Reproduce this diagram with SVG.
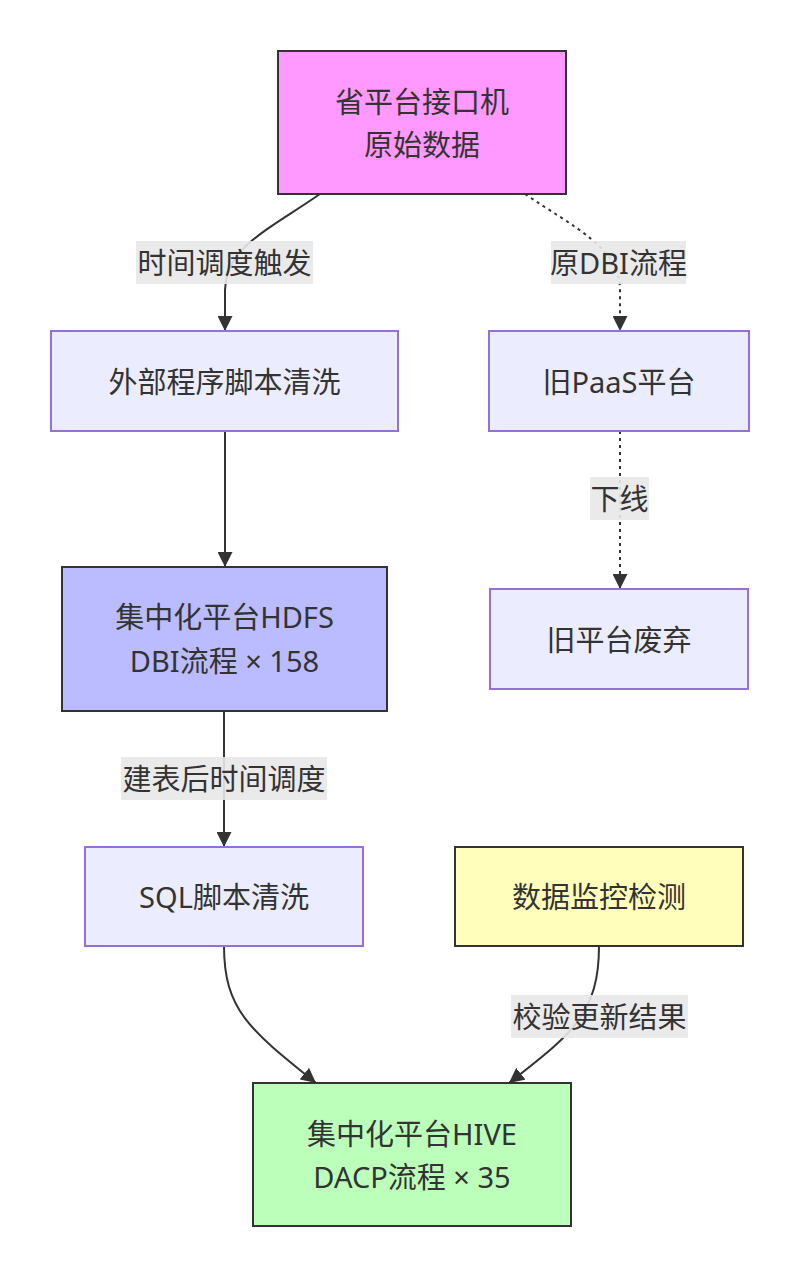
<svg xmlns="http://www.w3.org/2000/svg" width="800" height="1278" viewBox="0 0 800 1278">
<defs>
<marker id="arrow" viewBox="0 0 10 10" refX="10" refY="5" markerUnits="userSpaceOnUse" markerWidth="15" markerHeight="15" orient="auto">
<path d="M0,0 L10,5 L0,10 z" fill="#333"/>
</marker>
<style>
text{font-family:"Noto Sans","Noto Sans CJK SC",sans-serif;font-size:29px;fill:#333;text-anchor:middle;dominant-baseline:central}
.edge{fill:none;stroke:#333;stroke-width:2}
.dash{stroke-dasharray:3,4}
.lbl{fill:#e8e8e8;opacity:0.9}
.def{fill:#ECECFF;stroke:#9370DB;stroke-width:2}
.dark{stroke:#333;stroke-width:2}
</style>
</defs>
<rect width="800" height="1278" fill="#fff"/>
<g id="connectors">
<path class="edge" d="M320,194 C268,230 225,248 225,290 L225,331" marker-end="url(#arrow)"/>
<path class="edge dash" d="M525,194 C575,228 620,248 620,290 L620,331" marker-end="url(#arrow)"/>
<path class="edge" d="M225,431 L225,567" marker-end="url(#arrow)"/>
<path class="edge dash" d="M620,431 L620,589" marker-end="url(#arrow)"/>
<path class="edge" d="M224,711 L224,847" marker-end="url(#arrow)"/>
<path class="edge" d="M224,946 C224,1010 250,1030 316,1083" marker-end="url(#arrow)"/>
<path class="edge" d="M599,946 C599,1015 570,1035 509,1083" marker-end="url(#arrow)"/>
<g id="edge-labels">
<rect class="lbl" x="136" y="241" width="177" height="43"/>
<text x="224.5" y="262">时间调度触发</text>
<rect class="lbl" x="551" y="241" width="135" height="43"/>
<text x="618.5" y="262">原DBI流程</text>
<rect class="lbl" x="590" y="477" width="59" height="43"/>
<text x="619.5" y="498">下线</text>
<rect class="lbl" x="121" y="757" width="206" height="43"/>
<text x="224" y="778">建表后时间调度</text>
<rect class="lbl" x="511" y="995" width="177" height="43"/>
<text x="599.5" y="1016">校验更新结果</text>
</g>
</g>
<g id="n-source">
<rect x="278" y="51" width="288" height="143" fill="#ff99ff" class="dark"/>
<text x="422" y="101">省平台接口机</text>
<text x="422" y="144">原始数据</text>
</g>
<g id="n-external">
<rect x="51" y="331" width="347" height="100" class="def"/>
<text x="224.5" y="381">外部程序脚本清洗</text>
</g>
<g id="n-paas">
<rect x="489" y="331" width="260" height="100" class="def"/>
<text x="619" y="381">旧PaaS平台</text>
</g>
<g id="n-hdfs">
<rect x="62" y="567" width="325" height="144" fill="#bbbbff" class="dark"/>
<text x="224.5" y="616">集中化平台HDFS</text>
<text x="224.5" y="660">DBI流程 × 158</text>
</g>
<g id="n-abandon">
<rect x="490" y="589" width="258" height="100" class="def"/>
<text x="619" y="639">旧平台废弃</text>
</g>
<g id="n-sql">
<rect x="85" y="847" width="278" height="99" class="def"/>
<text x="224" y="896">SQL脚本清洗</text>
</g>
<g id="n-monitor">
<rect x="455" y="847" width="288" height="99" fill="#ffffbb" class="dark"/>
<text x="599" y="896">数据监控检测</text>
</g>
<g id="n-hive">
<rect x="253" y="1083" width="318" height="143" fill="#bbffbb" class="dark"/>
<text x="412" y="1133">集中化平台HIVE</text>
<text x="412" y="1176">DACP流程 × 35</text>
</g>
</svg>
